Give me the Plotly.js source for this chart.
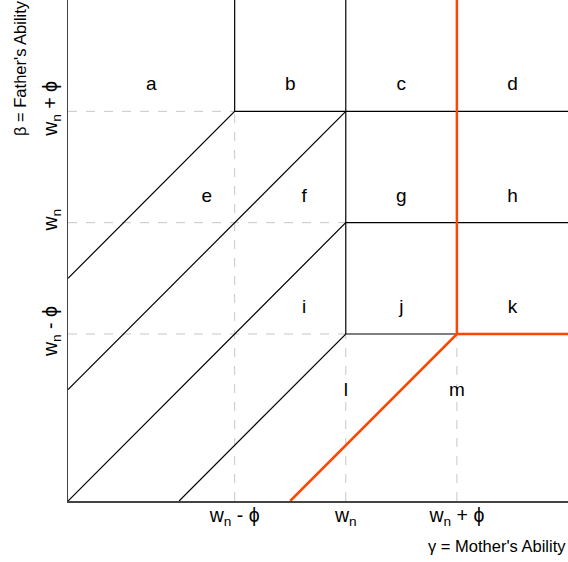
<!DOCTYPE html>
<html><head><meta charset="utf-8">
<script src="https://cdn.plot.ly/plotly-3.0.1.min.js"></script>
<style>html,body{margin:0;padding:0;background:#fff}#chart{width:568px;height:562px}</style>
</head><body><div id="chart"></div>
<script>
// Axis tick positions and labels (wn = 2.5, phi = 1 in model units)
const tickVals = [1.5, 2.5, 3.5];
const tickLabels = ["w<sub>n</sub> - ϕ", "w<sub>n</sub>", "w<sub>n</sub> + ϕ"];

// Black boundary segments (x, y), null separates segments
const boundX = [0, 1.5, 4.5, null, 1.5, 1.5, null, 0, 2.5, null, 2.5, 2.5, null, 0, 2.5, 4.5, null, 1, 2.5, 3.5];
const boundY = [2, 3.5, 3.5, null, 3.5, 4.5, null, 1, 3.5, null, 1.5, 4.5, null, 0, 2.5, 2.5, null, 0, 1.5, 1.5];

// Red boundary
const redX = [2, 3.5, 4.5, null, 3.5, 3.5];
const redY = [0, 1.5, 1.5, null, 1.5, 4.5];

// Dashed reference lines
const dashX = [0, 1.5, null, 0, 2.5, null, 0, 2.5, null, 1.5, 1.5, null, 2.5, 2.5, null, 3.5, 3.5];
const dashY = [3.5, 3.5, null, 2.5, 2.5, null, 1.5, 1.5, null, 0, 3.5, null, 0, 1.5, null, 0, 1.5];

// Region labels
const regionNames = ["a","b","c","d","e","f","g","h","i","j","k","l","m"];
const regionX = [0.75, 2, 3, 4, 1.25, 2.125, 3, 4, 2.125, 3, 4, 2.5, 3.5];
const regionY = [3.73, 3.73, 3.73, 3.73, 2.73, 2.73, 2.73, 2.73, 1.73, 1.73, 1.73, 0.99, 0.99];

const font = "Arial, 'Liberation Sans', sans-serif";
const traces = [
  {x: dashX, y: dashY, mode: "lines", line: {color: "#c8c8c8", width: 1, dash: "dash"}, hoverinfo: "skip"},
  {x: boundX, y: boundY, mode: "lines", line: {color: "#000", width: 1.2}, hoverinfo: "skip"},
  {x: redX, y: redY, mode: "lines", line: {color: "#ff4500", width: 2.5}, hoverinfo: "skip"},
  {x: regionX, y: regionY, mode: "text", text: regionNames, textfont: {size: 19, color: "#000", family: font}, hoverinfo: "skip"}
];
const layout = {
  width: 568, height: 562,
  margin: {l: 68, r: 0, t: 0, b: 61},
  showlegend: false,
  paper_bgcolor: "#fff", plot_bgcolor: "#fff",
  font: {family: font, color: "#000"},
  xaxis: {range: [0, 4.5], showgrid: false, zeroline: false, showline: true, linecolor: "#444", linewidth: 1.5,
          tickvals: tickVals, ticktext: tickLabels, ticks: "", ticklabelstandoff: -4,
          tickfont: {size: 19.5, color: "#000"}, fixedrange: true},
  yaxis: {range: [0, 4.5], showgrid: false, zeroline: false, showline: true, linecolor: "#444", linewidth: 1.5,
          tickvals: tickVals, ticktext: tickLabels, ticks: "", tickangle: -90, ticklabelstandoff: 2,
          tickfont: {size: 19.5, color: "#000"}, fixedrange: true},
  annotations: [
    {text: "β = Father's Ability", xref: "paper", yref: "paper", x: -0.1, y: 1, xanchor: "center", yanchor: "top",
     textangle: -90, showarrow: false, font: {size: 16.5, color: "#000"}, xshift: 2, yshift: 2},
    {text: "γ = Mother's Ability", xref: "paper", yref: "paper", x: 1, y: -0.09, xanchor: "right", yanchor: "middle",
     showarrow: false, font: {size: 16.5, color: "#000"}}
  ]
};
Plotly.newPlot("chart", traces, layout, {displayModeBar: false, staticPlot: true});
</script></body></html>
